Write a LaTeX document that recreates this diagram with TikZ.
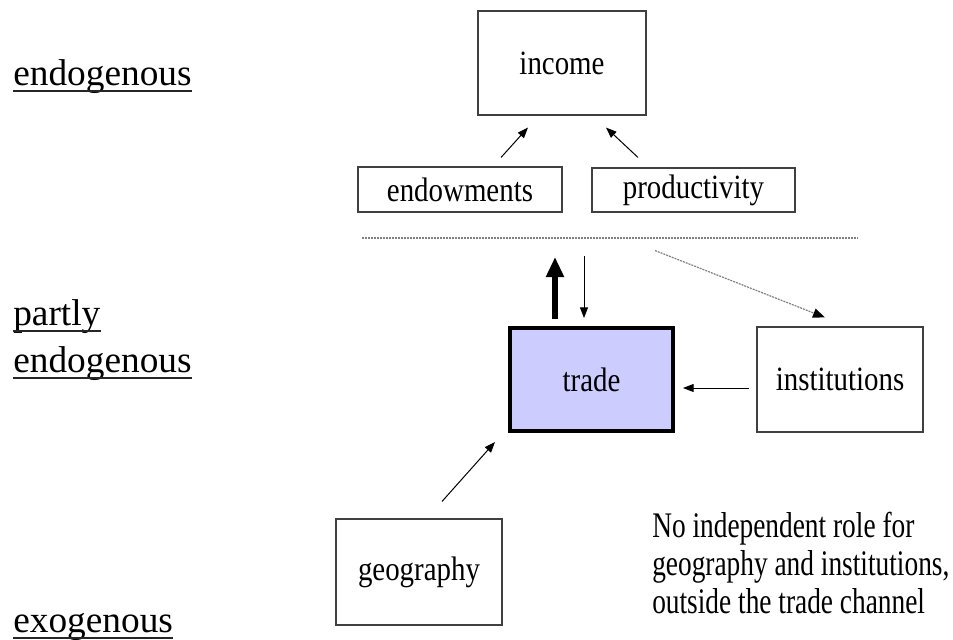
\documentclass[tikz,border=0pt]{standalone}
\usepackage{fontspec}
\setmainfont{Liberation Serif}
\newfontfamily\boxfont{Liberation Serif}[FakeStretch=0.85]
\newfontfamily\notefont{Liberation Serif}[FakeStretch=0.76]
\usetikzlibrary{arrows.meta,calc}

\begin{document}
\begin{tikzpicture}[x=0.75pt,y=-0.75pt,
  box/.style={draw=black!75,line width=0.8pt,inner sep=0pt,
    font=\boxfont\fontsize{25.5}{30}\selectfont},
  level/.style={anchor=base west,inner sep=0pt,font=\fontsize{28}{34}\selectfont},
  uline/.style={line width=1.5pt,black!85},
  thin arrow/.style={line width=0.75pt,-{Triangle[length=8pt,width=6pt]}},
  fat arrow/.style={line width=4.5pt,-{Triangle[length=15pt,width=12.75pt]}},
  dotline/.style={gray,line width=0.9pt,dash pattern=on 1.5pt off 0.75pt}]

% ---------- Canvas ----------
\useasboundingbox (0,0) rectangle (953,639);

% ---------- Levels on the left ----------
\foreach \nm/\txt/\y in {lendo/endogenous/85, lpartly/partly/325, lpendo/endogenous/372, lexo/exogenous/632}{
  \node[level] (\nm) at (13,\y) {\txt};
  \draw[uline] ($(\nm.base west)+(0,6)$) -- ($(\nm.base east)+(0,6)$);
}

% ---------- Boxes ----------
\node[box,minimum width=126pt,minimum height=78pt] (income) at (562,63) {income};
\node[box,minimum width=153pt,minimum height=33.75pt] (endowments) at (460,189.5) {endowments};
\node[box,minimum width=152.25pt,minimum height=33pt] (productivity) at (693.5,190) {productivity};
\node[box,draw=black,line width=3pt,fill={rgb,255:red,204;green,204;blue,255},
  minimum width=122.25pt,minimum height=77.25pt] (trade) at (591.5,379.5) {trade};
\node[box,minimum width=124.5pt,minimum height=78.75pt] (institutions) at (840,379.5) {institutions};
\node[box,minimum width=124.5pt,minimum height=79.5pt] (geography) at (419,572) {geography};

% ---------- Dividing line ----------
\coordinate (sepL) at (362,238);
\coordinate (sepR) at (858,238);
\draw[dotline] (sepL) -- (sepR);

% ---------- Connectors ----------
\draw[thin arrow] ($(endowments.north)+(41,-9)$) -- ($(income.south)+(-34,12)$);
\draw[thin arrow] ($(productivity.north)+(-55.5,-10)$) -- ($(income.south)+(44,12)$);
\draw[fat arrow] ($(trade.north)+(-36.5,-7)$) -- ++(0,-62);
\draw[thin arrow] ($(trade.north)+(-7.5,-70)$) -- ($(trade.north)+(-7.5,-8)$);
\draw[dotline,-{Triangle[length=9pt,width=7pt,color=black]}] ($(productivity.south)+(-38.5,38)$) -- ($(institutions.north)+(-15,-9)$);
\draw[thin arrow] ($(institutions.west)+(-7,8.5)$) -- ($(trade.east)+(8,8.5)$);
\draw[thin arrow] ($(geography.north)+(23,-17)$) -- ($(trade.south west)+(-13,9)$);

% ---------- Note ----------
\node[anchor=north west,inner sep=0pt,align=left,font=\notefont\fontsize{27}{28.5}\selectfont] (note) at (652,512)
  {No independent role for\\geography and institutions,\\outside the trade channel};

\end{tikzpicture}
\end{document}
